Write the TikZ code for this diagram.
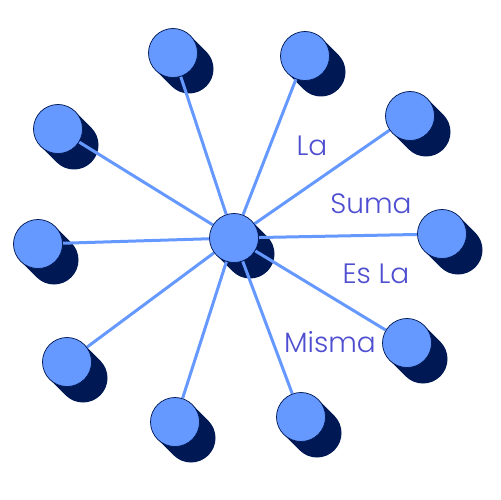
\documentclass[tikz,border=0pt]{standalone}
\usepackage{fontspec}
\setmainfont{Poppins}[UprightFont={* Light}]
\usetikzlibrary{backgrounds}
\definecolor{bolaazul}{RGB}{102,153,255}
\definecolor{sombra}{RGB}{0,25,85}
\definecolor{texto}{RGB}{78,78,208}
\tikzset{
    bola/.style={circle, draw=sombra, line width=0.7pt, fill=bolaazul, minimum size=49pt, inner sep=0pt},
    sombrabola/.style={line width=49pt, line cap=round, sombra},
    rayo/.style={line width=3pt, bolaazul},
    palabra/.style={anchor=base, text=texto, font=\fontsize{28}{30}\selectfont, inner sep=0pt}
}
\begin{document}
\begin{tikzpicture}[x=1pt, y=-1pt]
    \useasboundingbox (0,0) rectangle (501,500);

    \node[bola] (C) at (234,238) {};
    \node[bola] (B1) at (173,53) {};
    \node[bola] (B2) at (305,56) {};
    \node[bola] (B3) at (410,116) {};
    \node[bola] (B4) at (442,234) {};
    \node[bola] (B5) at (407,343) {};
    \node[bola] (B6) at (301,417) {};
    \node[bola] (B7) at (175,422) {};
    \node[bola] (B8) at (67,362) {};
    \node[bola] (B9) at (38,244) {};
    \node[bola] (B10) at (58,129) {};

    % Sombras y rayos detras de las bolas
    \begin{pgfonlayer}{background}
        \foreach \b in {C,B1,B2,B3,B4,B5,B6,B7,B8,B9,B10}
            \draw[sombrabola] (\b.center) -- ++(16,16);
        \foreach \b in {B1,B2,B3,B4,B5,B6,B7,B8,B9,B10}
            \draw[rayo] (C) -- (\b);
    \end{pgfonlayer}

    % Texto
    \node[palabra] (t1) at (312,156) {La};
    \node[palabra] (t2) at (371,213) {Suma};
    \node[palabra] (t3) at (376,283) {Es La};
    \node[palabra] (t4) at (330,352) {Misma};
\end{tikzpicture}
\end{document}
